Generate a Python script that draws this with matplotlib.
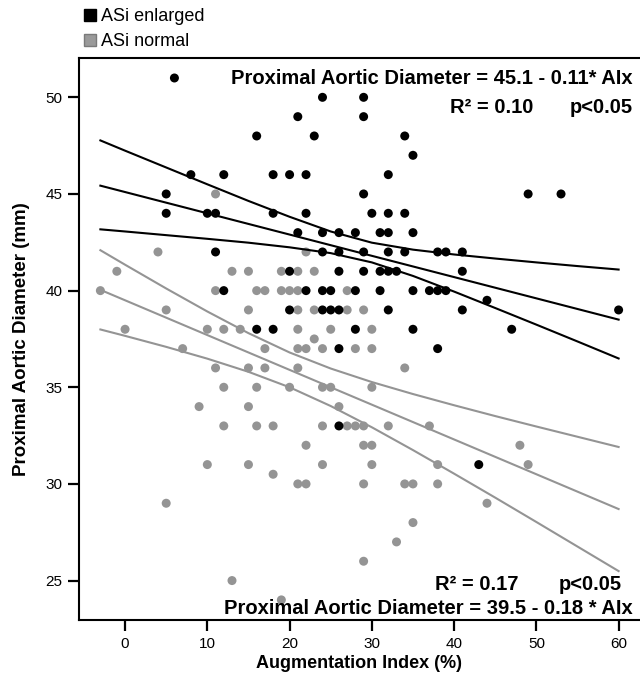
import matplotlib
matplotlib.use("Agg")
import matplotlib.pyplot as plt
from matplotlib.lines import Line2D

plt.rcParams['font.family'] = ['Liberation Sans', 'DejaVu Sans']

# ASi enlarged: augmentation index (%) and proximal aortic diameter (mm)
enlarged_aix = [6,
                24, 29,
                21, 29,
                16, 23, 34,
                35,
                8, 12, 18, 20, 22, 32,
                5, 29, 49, 53,
                5, 10, 11, 18, 22, 30, 32, 34,
                21, 24, 26, 28, 31, 32, 35,
                11, 24, 26, 29, 32, 34, 38, 39, 41,
                20, 26, 29, 31, 32, 33, 41,
                12, 22, 24, 25, 28, 31, 35, 37, 38, 39,
                44,
                20, 24, 25, 26, 32, 41, 60,
                16, 18, 28, 35, 47,
                26, 38,
                26,
                43]
enlarged_diam = [51,
                 50, 50,
                 49, 49,
                 48, 48, 48,
                 47,
                 46, 46, 46, 46, 46, 46,
                 45, 45, 45, 45,
                 44, 44, 44, 44, 44, 44, 44, 44,
                 43, 43, 43, 43, 43, 43, 43,
                 42, 42, 42, 42, 42, 42, 42, 42, 42,
                 41, 41, 41, 41, 41, 41, 41,
                 40, 40, 40, 40, 40, 40, 40, 40, 40, 40,
                 39.5,
                 39, 39, 39, 39, 39, 39, 39,
                 38, 38, 38, 38, 38,
                 37, 37,
                 33,
                 31]

# ASi normal
normal_aix = [11,
              4, 22,
              -1, 13, 15, 19, 21, 23,
              -3, 11, 16, 17, 19, 20, 21, 27,
              5, 15, 21, 23, 27, 29,
              0, 10, 12, 14, 21, 25, 30,
              23,
              7, 17, 21, 22, 24, 28, 30,
              11, 15, 17, 21, 34,
              12, 16, 20, 24, 25, 30,
              9, 15, 26,
              12, 16, 18, 24, 27, 28, 29, 32, 37,
              22, 29, 30, 48,
              10, 15, 24, 30, 38, 49,
              18,
              21, 22, 29, 34, 35, 38,
              5, 44,
              35, 33, 29, 13, 19]
normal_diam = [45,
               42, 42,
               41, 41, 41, 41, 41, 41,
               40, 40, 40, 40, 40, 40, 40, 40,
               39, 39, 39, 39, 39, 39,
               38, 38, 38, 38, 38, 38, 38,
               37.5,
               37, 37, 37, 37, 37, 37, 37,
               36, 36, 36, 36, 36,
               35, 35, 35, 35, 35, 35,
               34, 34, 34,
               33, 33, 33, 33, 33, 33, 33, 33, 33,
               32, 32, 32, 32,
               31, 31, 31, 31, 31, 31,
               30.5,
               30, 30, 30, 30, 30, 30,
               29, 29,
               28, 27, 26, 25, 24]

# regression fits (intercept, slope) and the range they are drawn over
enlarged_fit = (45.1, -0.11)
normal_fit = (39.5, -0.18)
fit_range = [-3, 60]

# 95% confidence bands
band_aix = [-3, 0, 5, 10, 15, 20, 25, 30, 35, 40, 45, 50, 55, 60]
enlarged_upper = [47.77, 47.24, 46.37, 45.50, 44.64, 43.82, 43.06, 42.48, 42.12, 41.87, 41.66, 41.46, 41.27, 41.09]
enlarged_lower = [43.17, 43.06, 42.87, 42.68, 42.48, 42.24, 41.94, 41.46, 40.76, 39.95, 39.10, 38.24, 37.37, 36.49]
normal_upper = [42.09, 41.34, 40.11, 38.92, 37.80, 36.80, 35.97, 35.27, 34.65, 34.07, 33.51, 32.97, 32.44, 31.91]
normal_lower = [37.99, 37.66, 37.09, 36.48, 35.80, 35.00, 34.03, 32.93, 31.75, 30.53, 29.29, 28.03, 26.76, 25.49]

BLACK = '#000000'
GREY = '#949494'
W, H = 640, 676

fig = plt.figure(figsize=(W / 100, H / 100), dpi=100)
ax = fig.add_axes([79 / W, 1 - 620 / H, 1 - 79 / W, (620 - 57.5) / H])

# grey group first, black group on top
ax.scatter(normal_aix, normal_diam, s=42, color=GREY, edgecolors='none', zorder=2)
ax.scatter(enlarged_aix, enlarged_diam, s=42, color=BLACK, edgecolors='none', zorder=3)

for (b0, b1), col in [(normal_fit, GREY), (enlarged_fit, BLACK)]:
    ax.plot(fit_range, [b0 + b1 * x for x in fit_range], color=col, lw=1.5, zorder=4)
ax.plot(band_aix, normal_upper, color=GREY, lw=1.5, zorder=4)
ax.plot(band_aix, normal_lower, color=GREY, lw=1.5, zorder=4)
ax.plot(band_aix, enlarged_upper, color=BLACK, lw=1.5, zorder=4)
ax.plot(band_aix, enlarged_lower, color=BLACK, lw=1.5, zorder=4)

ax.set_xlim(-5.6, 62.6)
ax.set_ylim(22.96, 52.06)
ax.set_xticks([0, 10, 20, 30, 40, 50, 60])
ax.set_yticks([25, 30, 35, 40, 45, 50])
ax.spines['right'].set_visible(False)
for side in ['left', 'top', 'bottom']:
    ax.spines[side].set_linewidth(1.5)
ax.tick_params(direction='out', length=8, width=1.6, labelsize=11, pad=4)

ax.set_xlabel("Augmentation Index (%)", fontsize=13, fontweight='bold', labelpad=3)
ax.set_ylabel("Proximal Aortic Diameter (mm)", fontsize=13.5, fontweight='bold', labelpad=11)

# equations and statistics
fs = 14.5
fig.text(633 / W, 1 - 84 / H, "Proximal Aortic Diameter = 45.1 - 0.11* AIx",
         ha='right', va='baseline', fontsize=fs, fontweight='bold')
fig.text(450 / W, 1 - 113 / H, "R² = 0.10", ha='left', va='baseline', fontsize=fs, fontweight='bold')
fig.text(633 / W, 1 - 113 / H, "p<0.05", ha='right', va='baseline', fontsize=fs, fontweight='bold')
fig.text(435 / W, 1 - 590 / H, "R² = 0.17", ha='left', va='baseline', fontsize=fs, fontweight='bold')
fig.text(622 / W, 1 - 590 / H, "p<0.05", ha='right', va='baseline', fontsize=fs, fontweight='bold')
fig.text(633 / W, 1 - 614 / H, "Proximal Aortic Diameter = 39.5 - 0.18 * AIx",
         ha='right', va='baseline', fontsize=fs, fontweight='bold')

handles = [Line2D([], [], ls='none', marker='s', ms=8, color=BLACK),
           Line2D([], [], ls='none', marker='s', ms=8, color='#9a9a9a', mec='#7a7a7a')]
fig.legend(handles, ["ASi enlarged", "ASi normal"], loc='upper left',
           bbox_to_anchor=(84 / W, 1 - 8 / H), frameon=False, fontsize=13,
           handlelength=0.7, handletextpad=0.25, labelspacing=0.45,
           borderpad=0, borderaxespad=0)

fig.savefig("out.png", dpi=100)
